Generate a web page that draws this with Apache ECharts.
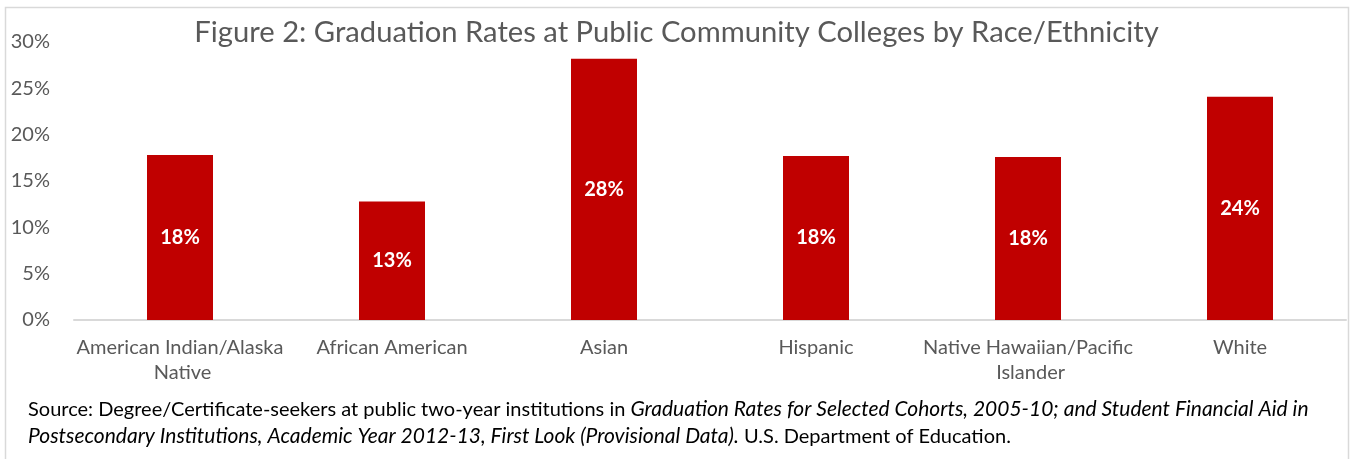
<!DOCTYPE html>
<html>
<head>
<meta charset="utf-8">
<script src="https://cdn.jsdelivr.net/npm/echarts@6/dist/echarts.min.js"></script>
<style>
  html, body { margin: 0; padding: 0; background: #fff; }
  #chart { width: 1353px; height: 459px; }
</style>
</head>
<body>
<div id="chart"></div>
<script>
// graduation rate (%) by race/ethnicity
const categories = ['American Indian/Alaska Native', 'African American', 'Asian', 'Hispanic', 'Native Hawaiian/Pacific Islander', 'White']
const rates = [17.8, 12.8, 28.2, 17.7, 17.6, 24.1]
const labels = ['18%', '13%', '28%', '18%', '18%', '24%']

const FONT = 'Lato, "Open Sans", sans-serif'
const chart = echarts.init(document.getElementById('chart'), null, { renderer: 'canvas' })

chart.setOption({
  animation: false,
  textStyle: { fontFamily: FONT },
  title: {
    text: 'Figure 2: Graduation Rates at Public Community Colleges by Race/Ethnicity',
    left: 'center',
    top: 13,
    textStyle: { fontFamily: FONT, fontSize: 29.2, fontWeight: 'normal', color: '#595959' }
  },
  grid: { left: 74, right: 7, top: 42, bottom: 139 },
  xAxis: {
    type: 'category',
    data: categories,
    axisLine: { lineStyle: { color: '#d9d9d9', width: 2 } },
    axisTick: { show: false },
    axisLabel: {
      color: '#595959', fontSize: 20, lineHeight: 25, margin: 15,
      width: 212, overflow: 'break', interval: 0
    }
  },
  yAxis: {
    type: 'value',
    min: 0,
    max: 30,
    interval: 5,
    axisLine: { show: false },
    axisTick: { show: false },
    splitLine: { show: false },
    axisLabel: { color: '#595959', fontSize: 20, margin: 24, formatter: v => v + '%' }
  },
  series: [{
    type: 'bar',
    data: rates,
    barWidth: 66,
    itemStyle: { color: '#c00000' },
    label: {
      show: true,
      position: 'inside',
      color: '#fff',
      fontSize: 20,
      fontWeight: 'bold',
      formatter: p => labels[p.dataIndex]
    }
  }],
  graphic: [
    {
      type: 'rect',
      shape: { x: 5.5, y: 7.5, width: 1343, height: 470 },
      style: { fill: 'none', stroke: '#d9d9d9', lineWidth: 1.5 },
      silent: true
    },
    {
      type: 'text',
      left: 28,
      top: 399,
      style: {
        text: '{n|Source: Degree/Certificate-seekers at public two-year institutions in }{i|Graduation Rates for Selected Cohorts, 2005-10; and Student Financial Aid in}\n' +
              '{i|Postsecondary Institutions, Academic Year 2012-13, First Look (Provisional Data).}{n| U.S. Department of Education.}',
        rich: {
          n: { fontFamily: FONT, fontSize: 20, color: '#000', lineHeight: 27 },
          i: { fontFamily: FONT, fontSize: 21, fontStyle: 'italic', color: '#000', lineHeight: 27 }
        }
      }
    }
  ]
})
</script>
</body>
</html>
